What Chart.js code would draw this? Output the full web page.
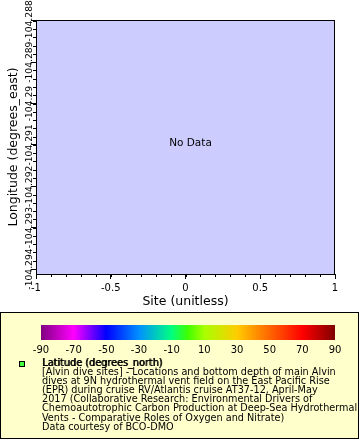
<!DOCTYPE html>
<html>
<head>
<meta charset="utf-8">
<script src="https://cdn.jsdelivr.net/npm/chart.js@4.4.0/dist/chart.umd.min.js"></script>
<style>
    body { margin: 0; width: 360px; height: 440px; overflow: hidden; background: #fff; font-family: "DejaVu Sans", sans-serif; }
    #grafico { position: absolute; left: 0; top: 0; }
    #legenda { position: absolute; left: 0; top: 312px; width: 359px; height: 127px; box-sizing: border-box; border: 1px solid #000; background: #ffffcc; }
    #barra { position: absolute; left: 0; top: 318px; }
    #marcador { position: absolute; left: 19px; top: 361px; width: 6px; height: 6px; box-sizing: border-box; border: 1px solid #000; background: #44ff44; }
    #texto { position: absolute; left: 42px; top: 358px; font-size: 9.7px; line-height: 9.1px; color: #000; white-space: nowrap; }
    #texto .titulo { text-shadow: 0.8px 0 0 #000; }
</style>
</head>
<body>
<canvas id="grafico" width="360" height="313"></canvas>
<div id="legenda"></div>
<canvas id="barra" width="360" height="40"></canvas>
<div id="marcador"></div>
<div id="texto">
    <span class="titulo">Latitude (degrees_north)</span><br>
    [Alvin dive sites] - Locations and bottom depth of main Alvin<br>
    dives at 9N hydrothermal vent field on the East Pacific Rise<br>
    (EPR) during cruise RV/Atlantis cruise AT37-12, April-May<br>
    2017 (Collaborative Research: Environmental Drivers of<br>
    Chemoautotrophic Carbon Production at Deep-Sea Hydrothermal<br>
    Vents - Comparative Roles of Oxygen and Nitrate)<br>
    Data courtesy of BCO-DMO
</div>
<script>
// dados (nenhum ponto no grafico de referencia)
var sites = [];
var longitudes = [];
var latitudes = [];

var xMin = -1, xMax = 1;
var xTicks = [-1, -0.5, 0, 0.5, 1];
var xTickLabels = ['-1', '-0.5', '0', '0.5', '1'];

var yMin = -104.29412, yMax = -104.28798;
var yTicks = [-104.294, -104.293, -104.292, -104.291, -104.29, -104.289, -104.288];
var yTickLabels = ['-104.294', '-104.293', '-104.292', '-104.291', '-104.29', '-104.289', '-104.288'];

var cbTicks = [-90, -70, -50, -30, -10, 10, 30, 50, 70, 90];
var cbCores = ['#800080', '#ff00ff', '#0000ff', '#0090ff', '#00ff80', '#40ff00', '#a8ff00', '#ffcc00', '#ff6600', '#ff0000', '#800000'];
var cbValores = [-90, -70, -50, -30, -10, 0, 10, 30, 50, 70, 90];

var fonte = '"DejaVu Sans", sans-serif';

function minorValores(min, max, passo) {
    var lista = [];
    var k0 = Math.ceil(min / passo - 1e-6);
    var k1 = Math.floor(max / passo + 1e-6);
    for (var k = k0; k <= k1; k++) {
        lista.push(k * passo);
    }
    return lista;
}

var moldura = {
    id: 'moldura',
    beforeDraw: function (chart) {
        var a = chart.chartArea;
        var ctx = chart.ctx;
        ctx.save();
        ctx.fillStyle = '#ccccff';
        ctx.fillRect(a.left, a.top, a.right - a.left, a.bottom - a.top);
        ctx.restore();
    },
    afterDraw: function (chart) {
        var a = chart.chartArea;
        var ctx = chart.ctx;
        ctx.save();
        ctx.strokeStyle = '#000';
        ctx.lineWidth = 1;
        ctx.strokeRect(a.left + 0.5, a.top + 0.5, a.right - a.left - 1, a.bottom - a.top);

        // ticks menores
        ctx.beginPath();
        var xs = minorValores(xMin, xMax, 0.1);
        for (var i = 0; i < xs.length; i++) {
            var px = Math.round(chart.scales.x.getPixelForValue(xs[i])) + 0.5;
            ctx.moveTo(px, a.bottom);
            ctx.lineTo(px, a.bottom + 3);
        }
        var ys = minorValores(yMin, yMax, 0.0002);
        for (var j = 0; j < ys.length; j++) {
            var py = Math.round(chart.scales.y.getPixelForValue(ys[j])) + 0.5;
            ctx.moveTo(a.left, py);
            ctx.lineTo(a.left - 3, py);
        }
        ctx.stroke();

        if (latitudes.length == 0) {
            ctx.fillStyle = '#000';
            ctx.font = '10.5px ' + fonte;
            ctx.textAlign = 'center';
            ctx.textBaseline = 'middle';
            ctx.fillText('No Data', (a.left + a.right) / 2 + 5, (a.top + a.bottom) / 2 - 4);
        }
        ctx.restore();
    }
};

var config = {
    type: 'scatter',
    data: {
        datasets: [{
            label: 'Latitude (degrees_north)',
            data: sites.map(function (s, i) { return { x: s, y: longitudes[i] }; }),
            backgroundColor: '#44ff44'
        }]
    },
    options: {
        responsive: false,
        animation: false,
        layout: { padding: { left: 0, top: 20, right: 25, bottom: 0 } },
        plugins: { legend: { display: false }, tooltip: { enabled: false } },
        scales: {
            x: {
                type: 'linear',
                min: xMin,
                max: xMax,
                afterBuildTicks: function (s) { s.ticks = xTicks.map(function (v) { return { value: v }; }); },
                afterFit: function (s) { s.height = 39; },
                border: { color: '#000' },
                grid: { drawOnChartArea: false, tickLength: 5, tickColor: '#000' },
                ticks: {
                    autoSkip: false, maxRotation: 0, padding: 3, color: '#000',
                    font: { family: fonte, size: 10 },
                    callback: function (v, i) { return xTickLabels[i]; }
                },
                title: {
                    display: true, text: 'Site (unitless)', color: '#000',
                    font: { family: fonte, size: 12.5 },
                    padding: { top: 0, bottom: 3.5 }
                }
            },
            y: {
                type: 'linear',
                min: yMin,
                max: yMax,
                afterBuildTicks: function (s) { s.ticks = yTicks.map(function (v) { return { value: v }; }); },
                afterFit: function (s) { s.width = 36; },
                border: { color: '#000' },
                grid: { drawOnChartArea: false, tickLength: 5, tickColor: '#000' },
                ticks: {
                    autoSkip: false, minRotation: 90, maxRotation: 90, crossAlign: 'center', padding: -19.5,
                    color: '#000', font: { family: fonte, size: 9.2 },
                    callback: function (v, i) { return yTickLabels[i]; }
                },
                title: {
                    display: true, text: 'Longitude (degrees_east)', color: '#000',
                    font: { family: fonte, size: 12.5 },
                    padding: { top: 6.5, bottom: 0 }
                }
            }
        }
    },
    plugins: [moldura]
};

window.grafico = new Chart(document.getElementById('grafico'), config);

// barra de cores
function gradiente(context) {
    var chart = context.chart;
    var a = chart.chartArea;
    if (!a) return '#888';
    var esc = chart.scales.x;
    var g = chart.ctx.createLinearGradient(esc.getPixelForValue(-90), 0, esc.getPixelForValue(90), 0);
    for (var i = 0; i < cbValores.length; i++) {
        g.addColorStop((cbValores[i] + 90) / 180, cbCores[i]);
    }
    return g;
}

var configBarra = {
    type: 'bar',
    data: {
        labels: ['Latitude'],
        datasets: [{
            data: [[cbTicks[0], cbTicks[cbTicks.length - 1]]],
            backgroundColor: gradiente,
            borderWidth: 0,
            barPercentage: 1,
            categoryPercentage: 1
        }]
    },
    options: {
        indexAxis: 'y',
        responsive: false,
        animation: false,
        layout: { padding: { left: 41, top: 7, right: 25, bottom: 0 } },
        plugins: { legend: { display: false }, tooltip: { enabled: false } },
        scales: {
            x: {
                type: 'linear',
                min: -90,
                max: 90,
                afterBuildTicks: function (s) { s.ticks = cbTicks.map(function (v) { return { value: v }; }); },
                afterFit: function (s) { s.height = 18; },
                border: { display: false },
                grid: { display: false, drawTicks: false },
                ticks: {
                    autoSkip: false, maxRotation: 0, padding: 4, color: '#000',
                    font: { family: fonte, size: 10 }
                }
            },
            y: { display: false }
        }
    }
};

window.barra = new Chart(document.getElementById('barra'), configBarra);
</script>
</body>
</html>
